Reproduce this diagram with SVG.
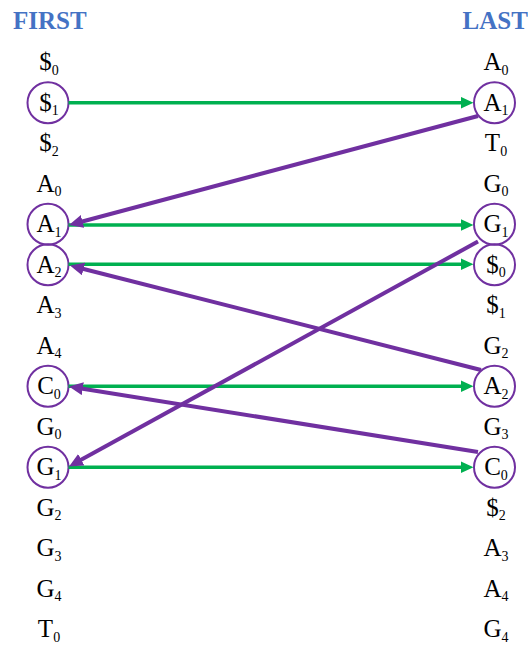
<svg xmlns="http://www.w3.org/2000/svg" width="528" height="646" viewBox="0 0 528 646">
<style>
text{font-family:'Liberation Serif','DejaVu Serif',serif;fill:#000}
.lbl{font-size:25px;text-anchor:middle}
.sub{font-size:14px}
.hdr{font-size:25px;font-weight:bold;fill:#4472C4}
.ring{fill:none;stroke:#7030A0;stroke-width:2}
.g{stroke:#00B050;stroke-width:3.5;fill:none}
.p{stroke:#7030A0;stroke-width:4;fill:none}
</style>
<defs>
<marker id="ag" markerUnits="userSpaceOnUse" markerWidth="14" markerHeight="12" refX="7" refY="6" orient="auto"><path d="M0,0 L13,6 L0,12 z" fill="#00B050"/></marker>
<marker id="ap" markerUnits="userSpaceOnUse" markerWidth="15" markerHeight="13" refX="8" refY="6.5" orient="auto"><path d="M0,0 L14,6.5 L0,13 z" fill="#7030A0"/></marker>
</defs>
<text class="hdr" x="13" y="29">FIRST</text>
<text class="hdr" x="462.5" y="29">LAST</text>
<g id="first">
<g id="F0"><text class="lbl" x="49" y="70.2">$<tspan class="sub" dy="4.5">0</tspan></text></g>
<g id="F1"><circle class="ring" cx="48" cy="102.7" r="20.5"/><text class="lbl" x="49" y="110.7">$<tspan class="sub" dy="4.5">1</tspan></text></g>
<g id="F2"><text class="lbl" x="49" y="151.2">$<tspan class="sub" dy="4.5">2</tspan></text></g>
<g id="F3"><text class="lbl" x="49" y="191.7">A<tspan class="sub" dy="4.5">0</tspan></text></g>
<g id="F4"><circle class="ring" cx="48" cy="224.2" r="20.5"/><text class="lbl" x="49" y="232.2">A<tspan class="sub" dy="4.5">1</tspan></text></g>
<g id="F5"><circle class="ring" cx="48" cy="264.7" r="20.5"/><text class="lbl" x="49" y="272.7">A<tspan class="sub" dy="4.5">2</tspan></text></g>
<g id="F6"><text class="lbl" x="49" y="313.2">A<tspan class="sub" dy="4.5">3</tspan></text></g>
<g id="F7"><text class="lbl" x="49" y="353.7">A<tspan class="sub" dy="4.5">4</tspan></text></g>
<g id="F8"><circle class="ring" cx="48" cy="386.2" r="20.5"/><text class="lbl" x="49" y="394.2">C<tspan class="sub" dy="4.5">0</tspan></text></g>
<g id="F9"><text class="lbl" x="49" y="434.7">G<tspan class="sub" dy="4.5">0</tspan></text></g>
<g id="F10"><circle class="ring" cx="48" cy="467.2" r="20.5"/><text class="lbl" x="49" y="475.2">G<tspan class="sub" dy="4.5">1</tspan></text></g>
<g id="F11"><text class="lbl" x="49" y="515.7">G<tspan class="sub" dy="4.5">2</tspan></text></g>
<g id="F12"><text class="lbl" x="49" y="556.2">G<tspan class="sub" dy="4.5">3</tspan></text></g>
<g id="F13"><text class="lbl" x="49" y="596.7">G<tspan class="sub" dy="4.5">4</tspan></text></g>
<g id="F14"><text class="lbl" x="49" y="637.2">T<tspan class="sub" dy="4.5">0</tspan></text></g>
</g>
<g id="last">
<g id="L0"><text class="lbl" x="496" y="70.2">A<tspan class="sub" dy="4.5">0</tspan></text></g>
<g id="L1"><circle class="ring" cx="494.5" cy="102.7" r="20.5"/><text class="lbl" x="496" y="110.7">A<tspan class="sub" dy="4.5">1</tspan></text></g>
<g id="L2"><text class="lbl" x="496" y="151.2">T<tspan class="sub" dy="4.5">0</tspan></text></g>
<g id="L3"><text class="lbl" x="496" y="191.7">G<tspan class="sub" dy="4.5">0</tspan></text></g>
<g id="L4"><circle class="ring" cx="494.5" cy="224.2" r="20.5"/><text class="lbl" x="496" y="232.2">G<tspan class="sub" dy="4.5">1</tspan></text></g>
<g id="L5"><circle class="ring" cx="494.5" cy="264.7" r="20.5"/><text class="lbl" x="496" y="272.7">$<tspan class="sub" dy="4.5">0</tspan></text></g>
<g id="L6"><text class="lbl" x="496" y="313.2">$<tspan class="sub" dy="4.5">1</tspan></text></g>
<g id="L7"><text class="lbl" x="496" y="353.7">G<tspan class="sub" dy="4.5">2</tspan></text></g>
<g id="L8"><circle class="ring" cx="494.5" cy="386.2" r="20.5"/><text class="lbl" x="496" y="394.2">A<tspan class="sub" dy="4.5">2</tspan></text></g>
<g id="L9"><text class="lbl" x="496" y="434.7">G<tspan class="sub" dy="4.5">3</tspan></text></g>
<g id="L10"><circle class="ring" cx="494.5" cy="467.2" r="20.5"/><text class="lbl" x="496" y="475.2">C<tspan class="sub" dy="4.5">0</tspan></text></g>
<g id="L11"><text class="lbl" x="496" y="515.7">$<tspan class="sub" dy="4.5">2</tspan></text></g>
<g id="L12"><text class="lbl" x="496" y="556.2">A<tspan class="sub" dy="4.5">3</tspan></text></g>
<g id="L13"><text class="lbl" x="496" y="596.7">A<tspan class="sub" dy="4.5">4</tspan></text></g>
<g id="L14"><text class="lbl" x="496" y="637.2">G<tspan class="sub" dy="4.5">4</tspan></text></g>
</g>
<g id="connectors">
<line class="g" x1="68.5" y1="102.7" x2="467.5" y2="102.7" marker-end="url(#ag)"/>
<line class="g" x1="68.5" y1="225" x2="467.5" y2="225" marker-end="url(#ag)"/>
<line class="g" x1="68.5" y1="264.2" x2="467.5" y2="264.2" marker-end="url(#ag)"/>
<line class="g" x1="68.5" y1="386.2" x2="467.5" y2="386.2" marker-end="url(#ag)"/>
<line class="g" x1="68.5" y1="467.2" x2="467.5" y2="467.2" marker-end="url(#ag)"/>
<line class="p" x1="478" y1="116" x2="74.8" y2="223.45" marker-end="url(#ap)"/>
<line class="p" x1="478" y1="241.5" x2="74.3" y2="463.6" marker-end="url(#ap)"/>
<line class="p" x1="481" y1="370" x2="75.8" y2="267" marker-end="url(#ap)"/>
<line class="p" x1="478" y1="452" x2="74.9" y2="387.45" marker-end="url(#ap)"/>
</g>
</svg>
